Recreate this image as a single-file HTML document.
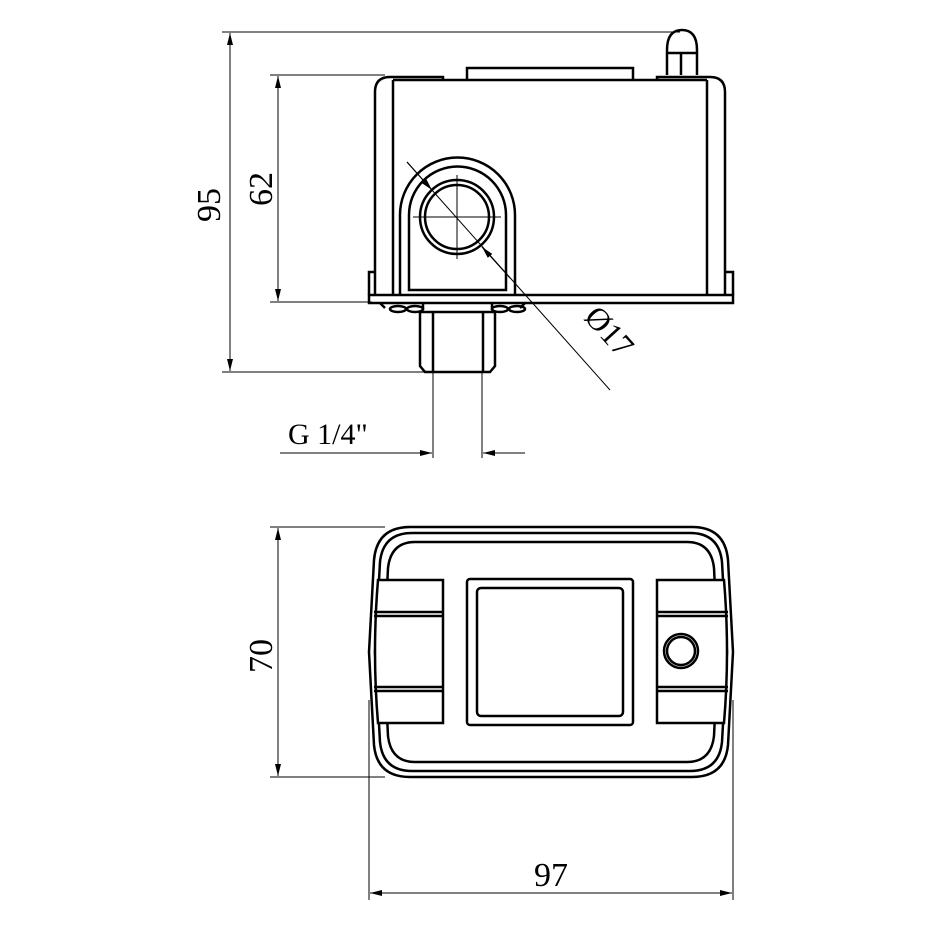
<!DOCTYPE html>
<html><head><style>html,body{margin:0;padding:0;background:#fff}svg{display:block}</style></head><body>
<svg width="930" height="930" viewBox="0 0 930 930" xmlns="http://www.w3.org/2000/svg" font-family="Liberation Serif, serif" fill="none" stroke="#000">
<defs><marker id="a" viewBox="0 0 12 6" refX="12" refY="3" markerWidth="12" markerHeight="6" orient="auto-start-reverse" markerUnits="userSpaceOnUse"><path d="M0,0 L12,3 L0,6z" fill="#000" stroke="none"/></marker></defs>
<g stroke-width="1">
<line x1="222" y1="32" x2="680" y2="32"/>
<line x1="222" y1="372" x2="430" y2="372"/>
<line x1="230" y1="33" x2="230" y2="371" marker-start="url(#a)" marker-end="url(#a)"/>
<line x1="270" y1="75" x2="385" y2="75"/>
<line x1="270" y1="302" x2="372" y2="302"/>
<line x1="278" y1="76" x2="278" y2="301" marker-start="url(#a)" marker-end="url(#a)"/>
<line x1="433" y1="372" x2="433" y2="458"/>
<line x1="482" y1="372" x2="482" y2="458"/>
<line x1="280" y1="453" x2="432" y2="453" marker-end="url(#a)"/>
<line x1="525" y1="453" x2="483" y2="453" marker-end="url(#a)"/>
<line x1="407" y1="162" x2="610" y2="390"/>
<line x1="407" y1="162" x2="432" y2="190" marker-end="url(#a)"/>
<line x1="510" y1="278" x2="482" y2="247" marker-end="url(#a)"/>
</g>
<g fill="#000" stroke="none" font-size="34">
<text transform="translate(220,205) rotate(-90)" text-anchor="middle">95</text>
<text transform="translate(272,189) rotate(-90)" text-anchor="middle">62</text>
<text transform="translate(272,656) rotate(-90)" text-anchor="middle">70</text>
<text x="551" y="886" text-anchor="middle">97</text>
<text x="288" y="444" font-size="30">G 1/4"</text>
<text transform="translate(583,318) rotate(48)" font-size="32">Ø17</text>
</g>
<g stroke-width="2.5">
<path d="M375,295 V92 Q375,77 390,77 H443 V80"/>
<path d="M725,295 V92 Q725,77 710,77 H657 V80"/>
<line x1="393" y1="80" x2="707" y2="80"/>
<line x1="393" y1="80" x2="393" y2="295"/>
<line x1="707" y1="80" x2="707" y2="295"/>
<path d="M467,80 V68 H633 V80"/>
<path d="M667,75 V50 Q667,30 682,30 Q697,30 697,50 V75 M681,53 V75 M667,53 H697"/>
<rect x="369" y="295" width="364" height="8"/>
<path d="M369,295 V272 H376 M733,295 V272 H726"/>
<path d="M400,295 V215 A57,57 0 0 1 515,215 V295"/>
<path d="M409,290 V215 A48.5,48.5 0 0 1 506,215 V290 Z"/>
<circle cx="457" cy="217" r="37"/>
<circle cx="457" cy="217" r="32"/>
<path d="M380,303 L385,308 M525,303 L520,308"/>
<ellipse cx="398" cy="309" rx="8" ry="3"/><ellipse cx="415" cy="309" rx="8" ry="3"/>
<ellipse cx="500" cy="309" rx="8" ry="3"/><ellipse cx="517" cy="309" rx="8" ry="3"/>
<path d="M423,303 V310 M492,303 V310"/>
<path d="M420,312 H495 V366 L490,372 H425 L420,366 Z"/>
<path d="M433,312 V372 M483,312 V372"/>
</g>
<g stroke-width="1"><path d="M413,217 H501 M457,175 V259"/></g>
<g stroke-width="1">
<line x1="270" y1="527" x2="385" y2="527"/>
<line x1="270" y1="777" x2="385" y2="777"/>
<line x1="278" y1="528" x2="278" y2="776" marker-start="url(#a)" marker-end="url(#a)"/>
<line x1="369" y1="700" x2="369" y2="900"/>
<line x1="733" y1="700" x2="733" y2="900"/>
<line x1="370" y1="893" x2="732" y2="893" marker-start="url(#a)" marker-end="url(#a)"/>
</g>
<g stroke-width="2.5">
<path d="M410,527 H692 Q725,527 728,560 L733,652 L728,745 Q725,777 692,777 H410 Q377,777 374,745 L369,652 L374,560 Q377,527 410,527 Z"/>
<path d="M412,533 H690 Q719,533 722,562 L727,652 L722,742 Q719,771 690,771 H412 Q383,771 380,742 L375,652 L380,562 Q383,533 412,533 Z"/>
<path d="M415,542 H687 Q711,542 714,568 L718,652 L714,736 Q711,762 687,762 H415 Q391,762 388,736 L384,652 L388,568 Q391,542 415,542 Z"/>
<path d="M378,580 H443 V723 H378 Q372,652 378,580 Z" fill="#fff"/>
<path d="M374,612 H443 M374,616 H443 M374,687 H443 M374,691 H443"/>
<path d="M657,580 H724 Q730,652 724,723 H657 Z" fill="#fff"/>
<path d="M657,612 H728 M657,616 H728 M657,687 H728 M657,691 H728"/>
<rect x="467" y="579" width="166" height="146" rx="3"/>
<rect x="477" y="588" width="146" height="128" rx="4"/>
<circle cx="681" cy="651" r="17"/>
<circle cx="681" cy="651" r="14"/>
</g>
</svg>
</body></html>
